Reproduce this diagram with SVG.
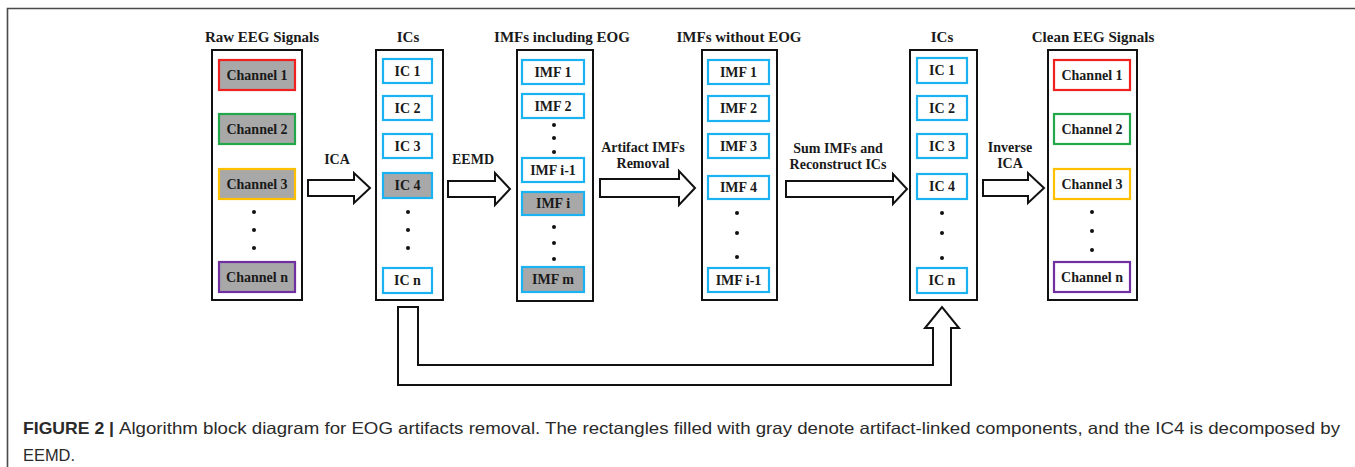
<svg xmlns="http://www.w3.org/2000/svg" width="1355" height="467" viewBox="0 0 1355 467">
<style>
.frame{fill:none;stroke:#4a4a4a;stroke-width:1.6}
.col{fill:#fff;stroke:#111;stroke-width:2}
.b{fill:#fff;stroke:#1ab2f0;stroke-width:2.2}
.bg{fill:#a8a8a8;stroke:#1ab2f0;stroke-width:2.2}
.t{font-family:"Liberation Serif","Times New Roman",serif;font-weight:bold;font-size:14px;fill:#1a1a1a;text-anchor:middle}
.h{font-family:"Liberation Serif","Times New Roman",serif;font-weight:bold;font-size:15px;fill:#1a1a1a;text-anchor:middle}
.l{font-family:"Liberation Serif","Times New Roman",serif;font-weight:bold;font-size:14px;fill:#1a1a1a;text-anchor:middle}
.arr{fill:#fff;stroke:#111;stroke-width:2;stroke-linejoin:miter}
.dot{fill:#111}
.cap{font-family:"Liberation Sans",Arial,sans-serif;font-size:16.5px;fill:#2a2a2a}
</style>
<rect width="1355" height="467" fill="#fff"/>
<path class="frame" d="M7.5,467 V8.5 H1355"/>

<g id="raw">
<text class="h" x="262" y="42">Raw EEG Signals</text>
<rect class="col" x="212" y="50" width="90" height="250"/>
<rect x="219" y="60" width="76" height="30" fill="#a8a8a8" stroke="#f02020" stroke-width="2.2"/>
<text class="t" x="257" y="80">Channel 1</text>
<rect x="219" y="114" width="76" height="30" fill="#a8a8a8" stroke="#22a84a" stroke-width="2.2"/>
<text class="t" x="257" y="134">Channel 2</text>
<rect x="219" y="169" width="76" height="30" fill="#a8a8a8" stroke="#ffc000" stroke-width="2.2"/>
<text class="t" x="257" y="189">Channel 3</text>
<circle class="dot" cx="254" cy="212" r="2"/><circle class="dot" cx="254" cy="230" r="2"/><circle class="dot" cx="254" cy="248" r="2"/>
<rect x="219" y="262" width="76" height="30" fill="#a8a8a8" stroke="#7030a0" stroke-width="2.2"/>
<text class="t" x="257" y="282">Channel n</text>
</g>

<g id="ics1">
<text class="h" x="408" y="42">ICs</text>
<rect class="col" x="376" y="50" width="67" height="250"/>
<rect class="b" x="383" y="59" width="49" height="24"/><text class="t" x="407.5" y="76">IC 1</text>
<rect class="b" x="383" y="96" width="49" height="24"/><text class="t" x="407.5" y="113">IC 2</text>
<rect class="b" x="383" y="134" width="49" height="24"/><text class="t" x="407.5" y="151">IC 3</text>
<rect class="bg" x="383" y="173" width="49" height="25"/><text class="t" x="407.5" y="190">IC 4</text>
<circle class="dot" cx="408" cy="212" r="2"/><circle class="dot" cx="408" cy="230" r="2"/><circle class="dot" cx="408" cy="248" r="2"/>
<rect class="b" x="383" y="268" width="49" height="25"/><text class="t" x="407.5" y="285">IC n</text>
</g>

<g id="imfs-eog">
<text class="h" x="562" y="42">IMFs including EOG</text>
<rect class="col" x="517" y="50" width="76" height="251"/>
<rect class="b" x="522" y="60" width="62" height="24"/><text class="t" x="553" y="77">IMF 1</text>
<rect class="b" x="522" y="94" width="62" height="24"/><text class="t" x="553" y="111">IMF 2</text>
<circle class="dot" cx="554" cy="125" r="2"/><circle class="dot" cx="554" cy="138" r="2"/><circle class="dot" cx="554" cy="152" r="2"/>
<rect class="b" x="522" y="158" width="62" height="24"/><text class="t" x="553" y="175">IMF i-1</text>
<rect class="bg" x="522" y="192" width="62" height="23"/><text class="t" x="553" y="208">IMF i</text>
<circle class="dot" cx="554" cy="227" r="2"/><circle class="dot" cx="554" cy="243" r="2"/><circle class="dot" cx="554" cy="259" r="2"/>
<rect class="bg" x="522" y="267" width="62" height="25"/><text class="t" x="553" y="284">IMF m</text>
</g>

<g id="imfs-clean">
<text class="h" x="739" y="42">IMFs without EOG</text>
<rect class="col" x="702" y="50" width="75" height="250"/>
<rect class="b" x="708" y="60" width="61" height="24"/><text class="t" x="738.5" y="77">IMF 1</text>
<rect class="b" x="708" y="96" width="61" height="25"/><text class="t" x="738.5" y="113">IMF 2</text>
<rect class="b" x="708" y="134" width="61" height="24"/><text class="t" x="738.5" y="151">IMF 3</text>
<rect class="b" x="708" y="176" width="61" height="23"/><text class="t" x="738.5" y="192">IMF 4</text>
<circle class="dot" cx="737" cy="213" r="2"/><circle class="dot" cx="737" cy="233" r="2"/><circle class="dot" cx="737" cy="257" r="2"/>
<rect class="b" x="708" y="268" width="61" height="24"/><text class="t" x="738.5" y="285">IMF i-1</text>
</g>

<g id="ics2">
<text class="h" x="942" y="42">ICs</text>
<rect class="col" x="910" y="50" width="67" height="250"/>
<rect class="b" x="917" y="58" width="50" height="25"/><text class="t" x="942" y="75">IC 1</text>
<rect class="b" x="917" y="96" width="50" height="24"/><text class="t" x="942" y="113">IC 2</text>
<rect class="b" x="917" y="134" width="50" height="24"/><text class="t" x="942" y="151">IC 3</text>
<rect class="b" x="917" y="174" width="50" height="25"/><text class="t" x="942" y="191">IC 4</text>
<circle class="dot" cx="942" cy="213" r="2"/><circle class="dot" cx="942" cy="233" r="2"/><circle class="dot" cx="942" cy="258" r="2"/>
<rect class="b" x="917" y="268" width="50" height="25"/><text class="t" x="942" y="285">IC n</text>
</g>

<g id="clean">
<text class="h" x="1093" y="42">Clean EEG Signals</text>
<rect class="col" x="1048" y="50" width="89" height="250"/>
<rect x="1054" y="60" width="76" height="30" fill="#fff" stroke="#f02020" stroke-width="2.2"/>
<text class="t" x="1092" y="80">Channel 1</text>
<rect x="1054" y="114" width="76" height="30" fill="#fff" stroke="#22a84a" stroke-width="2.2"/>
<text class="t" x="1092" y="134">Channel 2</text>
<rect x="1054" y="169" width="76" height="30" fill="#fff" stroke="#ffc000" stroke-width="2.2"/>
<text class="t" x="1092" y="189">Channel 3</text>
<circle class="dot" cx="1092" cy="212" r="2"/><circle class="dot" cx="1092" cy="231" r="2"/><circle class="dot" cx="1092" cy="250" r="2"/>
<rect x="1054" y="262" width="76" height="30" fill="#fff" stroke="#7030a0" stroke-width="2.2"/>
<text class="t" x="1092" y="282">Channel n</text>
</g>

<g id="connectors">
<path class="arr" d="M308,180 H354 V173 L370,188 L354,203 V196 H308 Z"/>
<text class="l" x="337" y="164">ICA</text>
<path class="arr" d="M448,181 H495 V173 L510,189 L495,205 V197 H448 Z"/>
<text class="l" x="473" y="164">EEMD</text>
<path class="arr" d="M600,179 H679 V171 L695,188 L679,205 V197 H600 Z"/>
<text class="l" x="643" y="152">Artifact IMFs</text>
<text class="l" x="643" y="168">Removal</text>
<path class="arr" d="M786,181 H893 V174 L907,189 L893,204 V197 H786 Z"/>
<text class="l" x="838" y="153">Sum IMFs and</text>
<text class="l" x="838" y="169">Reconstruct ICs</text>
<path class="arr" d="M983,180 H1028 V173 L1044,188 L1028,203 V196 H983 Z"/>
<text class="l" x="1010" y="152">Inverse</text>
<text class="l" x="1010" y="168">ICA</text>
<path class="arr" d="M398,307 H418 V365 H933 V328 H925 L942,307 L959,328 H951 V385 H398 Z"/>
</g>

<g id="caption">
<text class="cap" x="23" y="434" font-weight="bold" textLength="91" lengthAdjust="spacingAndGlyphs" fill="#1a1a1a">FIGURE 2 |</text>
<text class="cap" x="119" y="434" textLength="1221" lengthAdjust="spacingAndGlyphs">Algorithm block diagram for EOG artifacts removal. The rectangles filled with gray denote artifact-linked components, and the IC4 is decomposed by</text>
<text class="cap" x="23" y="461" textLength="52" lengthAdjust="spacingAndGlyphs">EEMD.</text>
</g>
</svg>
